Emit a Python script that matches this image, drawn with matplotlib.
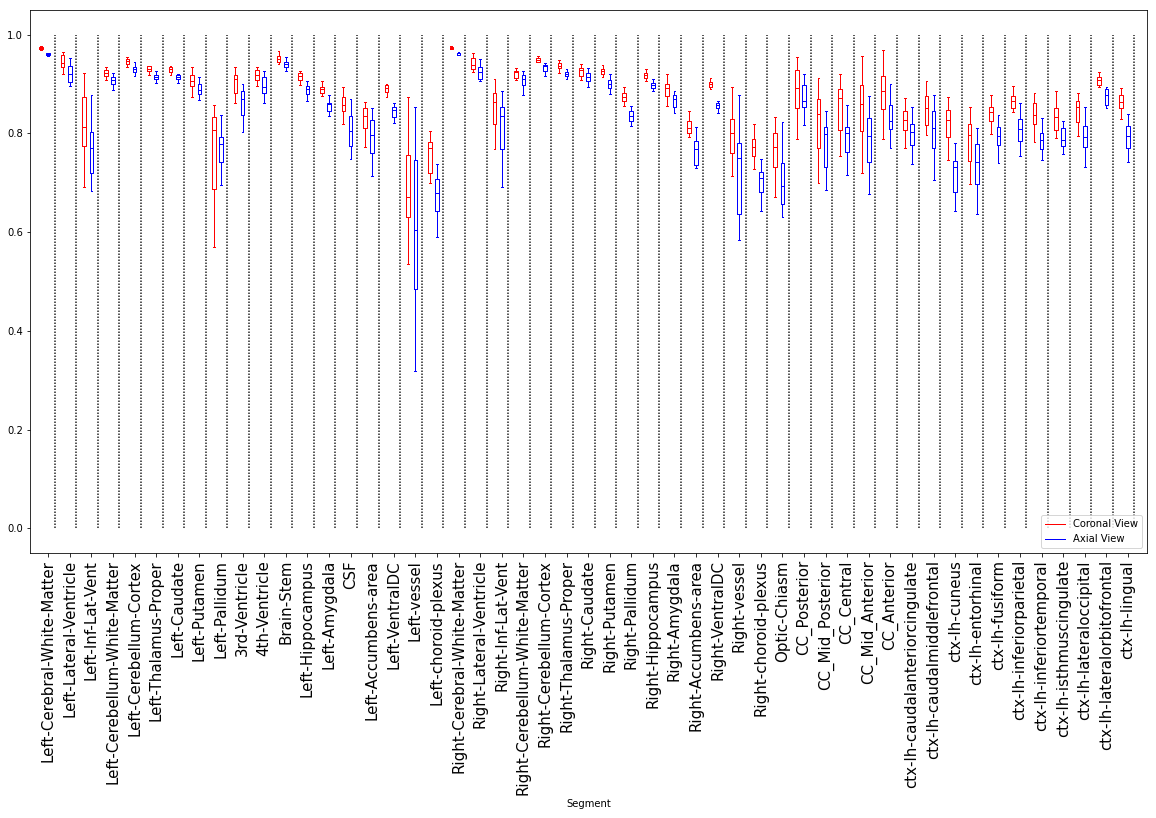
import matplotlib
matplotlib.use('Agg')
import matplotlib.pyplot as plt
from matplotlib.lines import Line2D

segments = ['Left-Cerebral-White-Matter', 'Left-Lateral-Ventricle', 'Left-Inf-Lat-Vent',
            'Left-Cerebellum-White-Matter', 'Left-Cerebellum-Cortex', 'Left-Thalamus-Proper',
            'Left-Caudate', 'Left-Putamen', 'Left-Pallidum', '3rd-Ventricle', '4th-Ventricle',
            'Brain-Stem', 'Left-Hippocampus', 'Left-Amygdala', 'CSF', 'Left-Accumbens-area',
            'Left-VentralDC', 'Left-vessel', 'Left-choroid-plexus', 'Right-Cerebral-White-Matter',
            'Right-Lateral-Ventricle', 'Right-Inf-Lat-Vent', 'Right-Cerebellum-White-Matter',
            'Right-Cerebellum-Cortex', 'Right-Thalamus-Proper', 'Right-Caudate', 'Right-Putamen',
            'Right-Pallidum', 'Right-Hippocampus', 'Right-Amygdala', 'Right-Accumbens-area',
            'Right-VentralDC', 'Right-vessel', 'Right-choroid-plexus', 'Optic-Chiasm',
            'CC_Posterior', 'CC_Mid_Posterior', 'CC_Central', 'CC_Mid_Anterior', 'CC_Anterior',
            'ctx-lh-caudalanteriorcingulate', 'ctx-lh-caudalmiddlefrontal', 'ctx-lh-cuneus',
            'ctx-lh-entorhinal', 'ctx-lh-fusiform', 'ctx-lh-inferiorparietal',
            'ctx-lh-inferiortemporal', 'ctx-lh-isthmuscingulate', 'ctx-lh-lateraloccipital',
            'ctx-lh-lateralorbitofrontal', 'ctx-lh-lingual']

# (whisker low, q1, median, q3, whisker high)
coronal = [
    (.969, .971, .973, .975, .977), (.920, .934, .943, .959, .965), (.692, .775, .813, .874, .922),
    (.908, .916, .922, .928, .934), (.934, .941, .946, .951, .955), (.919, .926, .931, .936, .937),
    (.918, .924, .930, .934, .936), (.874, .896, .907, .918, .934), (.569, .688, .807, .834, .857),
    (.861, .882, .910, .918, .934), (.896, .908, .918, .928, .934), (.941, .945, .951, .957, .967),
    (.898, .908, .916, .922, .926), (.876, .882, .889, .894, .906), (.819, .845, .857, .874, .894),
    (.772, .811, .835, .851, .863), (.874, .884, .892, .898, .900), (.535, .630, .671, .756, .874),
    (.699, .719, .771, .782, .805), (.972, .972, .974, .976, .978), (.924, .930, .939, .953, .963),
    (.768, .819, .863, .882, .910), (.908, .912, .924, .926, .932), (.944, .945, .949, .953, .957),
    (.922, .932, .936, .943, .949), (.908, .916, .928, .932, .941), (.914, .920, .926, .930, .939),
    (.855, .866, .874, .882, .894), (.906, .912, .918, .922, .930), (.855, .876, .892, .900, .920),
    (.793, .801, .811, .825, .845), (.889, .894, .900, .904, .912), (.713, .760, .801, .829, .894),
    (.728, .754, .772, .788, .819), (.671, .732, .772, .801, .834), (.788, .851, .892, .928, .955),
    (.699, .770, .839, .870, .912), (.754, .807, .872, .889, .920), (.719, .805, .859, .898, .957),
    (.788, .849, .886, .916, .969), (.770, .807, .827, .845, .872), (.797, .817, .851, .876, .906),
    (.746, .793, .827, .847, .874), (.697, .744, .797, .819, .853), (.799, .825, .843, .853, .878),
    (.843, .851, .866, .876, .896), (.782, .819, .838, .861, .882), (.790, .807, .833, .851, .886),
    (.795, .823, .853, .866, .882), (.894, .898, .908, .914, .924), (.829, .851, .863, .878, .892),
]
axial = [
    (.957, .959, .960, .962, .963), (.896, .904, .920, .937, .953), (.683, .719, .770, .803, .877),
    (.888, .900, .909, .914, .922), (.916, .924, .930, .934, .945), (.902, .910, .914, .919, .926),
    (.902, .910, .914, .918, .920), (.868, .880, .888, .900, .914), (.696, .742, .779, .793, .837),
    (.803, .837, .870, .886, .900), (.861, .882, .894, .914, .926), (.926, .934, .941, .945, .955),
    (.866, .880, .890, .896, .906), (.835, .845, .859, .861, .878), (.748, .774, .805, .835, .870),
    (.713, .760, .797, .827, .851), (.821, .833, .847, .853, .861), (.318, .485, .604, .746, .853),
    (.590, .642, .679, .707, .738), (.958, .959, .962, .963, .965), (.906, .910, .924, .934, .951),
    (.691, .768, .836, .853, .886), (.878, .898, .910, .918, .926), (.916, .926, .936, .939, .943),
    (.910, .916, .920, .924, .930), (.894, .906, .914, .922, .932), (.880, .892, .900, .908, .920),
    (.815, .825, .835, .845, .855), (.886, .892, .898, .902, .910), (.841, .853, .870, .878, .886),
    (.730, .736, .768, .784, .813), (.841, .851, .857, .861, .866), (.584, .637, .750, .780, .878),
    (.642, .681, .709, .722, .748), (.630, .657, .693, .740, .823), (.817, .853, .866, .898, .920),
    (.685, .732, .799, .813, .845), (.715, .762, .801, .813, .857), (.677, .742, .795, .831, .876),
    (.770, .809, .825, .857, .900), (.738, .776, .803, .819, .853), (.705, .770, .811, .845, .878),
    (.642, .681, .732, .744, .780), (.636, .697, .742, .778, .811), (.740, .776, .795, .813, .837),
    (.754, .784, .809, .829, .861), (.746, .768, .786, .801, .831), (.758, .774, .786, .811, .825),
    (.732, .772, .793, .815, .853), (.851, .857, .878, .889, .894), (.742, .770, .795, .815, .839),
]


def to_stats(rows):
    return [dict(whislo=r[0], q1=r[1], med=r[2], q3=r[3], whishi=r[4], fliers=[]) for r in rows]


n = len(segments)
pos_cor = [3 * i + 1 for i in range(n)]
pos_ax = [3 * i + 2 for i in range(n)]

fig = plt.figure(figsize=(1156 / 72, 818 / 72), dpi=72)
ax = fig.add_axes([30 / 1156, 1 - 553 / 818, 1117 / 1156, 543 / 818])

for stats, pos, col in [(to_stats(coronal), pos_cor, 'red'), (to_stats(axial), pos_ax, 'blue')]:
    props = dict(color=col, linewidth=1)
    ax.bxp(stats, positions=pos, widths=0.5, showfliers=False,
           boxprops=props, whiskerprops=props, capprops=props, medianprops=props,
           manage_ticks=False)

# group separators
ax.vlines([3 * i + 2.9 for i in range(n)], 0, 1, colors='#222222',
          linestyles=(0, (1, 1)), linewidth=1.5)

ax.set_xlim(-0.53, 154.64)
ax.set_ylim(-0.05, 1.05)
ax.set_yticks([0.0, 0.2, 0.4, 0.6, 0.8, 1.0])
ax.set_xticks(pos_ax)
ax.set_xticklabels(segments, rotation=90, fontsize=15)
ax.set_xlabel('Segment')

handles = [Line2D([], [], color='red', linewidth=1), Line2D([], [], color='blue', linewidth=1)]
ax.legend(handles, ['Coronal View', 'Axial View'], loc='lower right')

fig.savefig('out.png', dpi=72)
